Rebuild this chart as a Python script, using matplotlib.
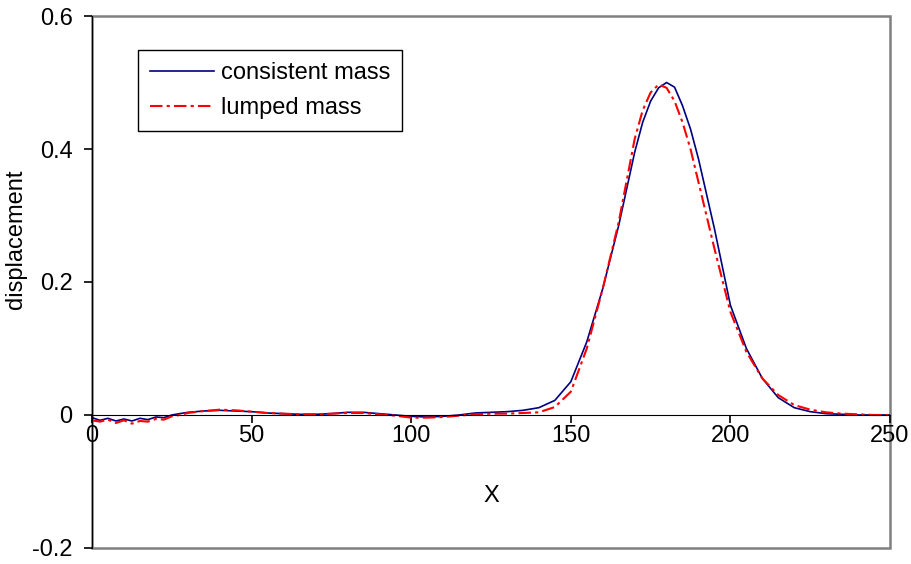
import numpy as np
import matplotlib.pyplot as plt
from matplotlib.patches import Rectangle

plt.rcParams['font.family'] = ['Liberation Sans', 'DejaVu Sans']

# Nodal positions along the bar
x = [0, 2.5, 5, 7.5, 10, 12.5, 15, 17.5, 20, 22.5, 25, 27.5, 30, 35, 40, 45,
     50, 55, 60, 65, 70, 75, 80, 85, 90, 95, 100, 105, 110, 115, 120, 125,
     130, 135, 140, 145, 150, 155, 160, 165, 170, 172.5, 175, 177.5, 180,
     182.5, 185, 187.5, 190, 195, 200, 205, 210, 215, 220, 225, 230, 235,
     240, 245, 250]

# Displacement, consistent mass matrix
u_consistent = [-0.004, -0.008, -0.005, -0.009, -0.006, -0.009, -0.005, -0.007,
                -0.003, -0.004, 0.0, 0.002, 0.004, 0.006, 0.007, 0.006,
                0.005, 0.003, 0.002, 0.001, 0.001, 0.002, 0.004, 0.004,
                0.002, 0.0, -0.002, -0.003, -0.002, 0.0, 0.003, 0.004,
                0.005, 0.007, 0.011, 0.022, 0.05, 0.11, 0.19, 0.285,
                0.395, 0.44, 0.472, 0.492, 0.5,
                0.493, 0.465, 0.43, 0.385, 0.28, 0.165, 0.1, 0.055, 0.026,
                0.011, 0.005, 0.002, 0.001,
                0.0, 0.0, 0.0]

# Displacement, lumped mass matrix
u_lumped = [-0.008, -0.01, -0.007, -0.012, -0.008, -0.013, -0.009, -0.01,
            -0.006, -0.007, -0.002, 0.0, 0.003, 0.006, 0.008, 0.007,
            0.005, 0.003, 0.002, 0.001, 0.001, 0.002, 0.003, 0.003,
            0.001, -0.001, -0.004, -0.004, -0.003, -0.001, 0.001, 0.002,
            0.002, 0.003, 0.004, 0.012, 0.035, 0.1, 0.19, 0.29,
            0.415, 0.458, 0.485, 0.497, 0.492,
            0.472, 0.44, 0.4, 0.35, 0.25, 0.155, 0.095, 0.055, 0.03,
            0.015, 0.008, 0.004, 0.002,
            0.001, 0.0, 0.0]

fig = plt.figure(figsize=(9.12, 5.64), dpi=100)
ax = fig.add_axes([0.1009, 0.0284, 0.875, 0.9432])

ax.plot(x, u_consistent, color='#000080', lw=1.2, label='consistent mass')
ax.plot(x, u_lumped, color='#FF0000', lw=1.5, ls=(0, (6, 2, 1.5, 2)),
        label='lumped mass')

ax.set_xlim(0, 250)
ax.set_ylim(-0.2, 0.6)
ax.set_xticks([0, 50, 100, 150, 200, 250])
ax.set_yticks([-0.2, 0, 0.2, 0.4, 0.6])
ax.set_yticklabels(['-0.2', '0', '0.2', '0.4', '0.6'])

# x axis drawn through zero, grey frame around the plot area
ax.spines['bottom'].set_position(('data', 0))
ax.spines['top'].set_visible(False)
ax.spines['right'].set_visible(False)
ax.spines['left'].set_color('black')
ax.spines['bottom'].set_color('black')
ax.add_patch(Rectangle((0, 0), 1, 1, transform=ax.transAxes, fill=False,
                       edgecolor='#808080', lw=1.8, clip_on=False, zorder=0))

ax.tick_params(axis='both', direction='out', length=6, width=1.2,
               labelsize=17, color='black')
ax.tick_params(axis='x', pad=1)
ax.tick_params(axis='y', pad=8)

ax.set_xlabel('X', fontsize=17)
ax.xaxis.set_label_coords(0.5, 0.118)
ax.set_ylabel('displacement', fontsize=17)
ax.yaxis.set_label_coords(-0.082, 0.58)

leg = ax.legend(loc='upper left', bbox_to_anchor=(0.0576, 0.936),
                borderaxespad=0, fancybox=False, framealpha=1,
                edgecolor='black', fontsize=17, handlelength=2.7,
                handletextpad=0.3, borderpad=0.5, labelspacing=0.55)
leg.get_frame().set_linewidth(1.0)

fig.savefig('out.png', dpi=100)
